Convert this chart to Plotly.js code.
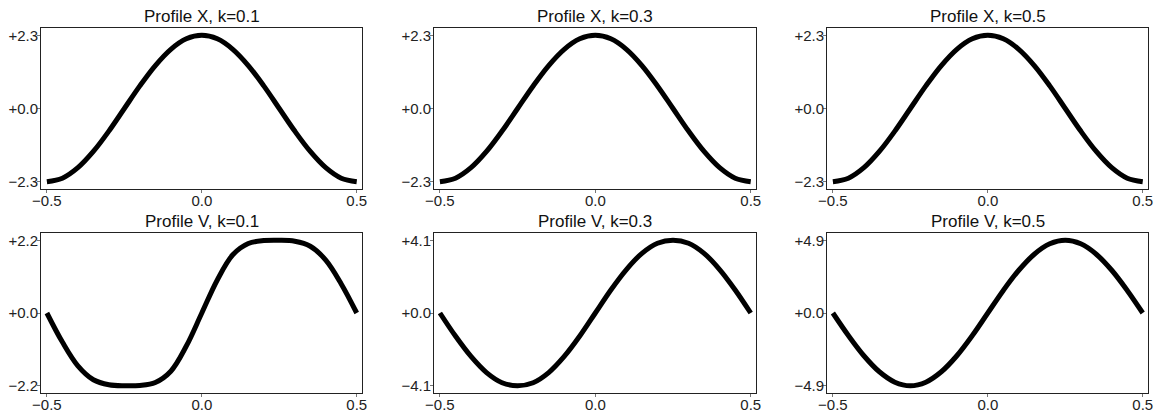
<!DOCTYPE html>
<html>
<head>
<meta charset="utf-8">
<script src="https://cdn.plot.ly/plotly-3.0.1.min.js"></script>
<style>
  html, body { margin: 0; padding: 0; background: #fff; }
  #chart { width: 1156px; height: 413px; }
</style>
</head>
<body>
<div id="chart"></div>
<script>
// sample positions along the profile
const xs = [-0.5, -0.45, -0.4, -0.35, -0.3, -0.25, -0.2, -0.15, -0.1, -0.05, 0,
            0.05, 0.1, 0.15, 0.2, 0.25, 0.3, 0.35, 0.4, 0.45, 0.5];

// top row: Profile X (same shape for every k)
const profileX_k01 = [-2.30, -2.19, -1.86, -1.35, -0.71, 0.00, 0.71, 1.35, 1.86, 2.19, 2.30,
                      2.19, 1.86, 1.35, 0.71, 0.00, -0.71, -1.35, -1.86, -2.19, -2.30];
const profileX_k03 = [-2.30, -2.19, -1.86, -1.35, -0.71, 0.00, 0.71, 1.35, 1.86, 2.19, 2.30,
                      2.19, 1.86, 1.35, 0.71, 0.00, -0.71, -1.35, -1.86, -2.19, -2.30];
const profileX_k05 = [-2.30, -2.19, -1.86, -1.35, -0.71, 0.00, 0.71, 1.35, 1.86, 2.19, 2.30,
                      2.19, 1.86, 1.35, 0.71, 0.00, -0.71, -1.35, -1.86, -2.19, -2.30];

// bottom row: Profile V
const profileV_k01 = [0.00, -0.88, -1.60, -2.02, -2.17, -2.20, -2.19, -2.10, -1.76, -1.00, 0.00,
                      1.00, 1.76, 2.10, 2.19, 2.20, 2.17, 2.02, 1.60, 0.88, 0.00];
const profileV_k03 = [0.00, -1.30, -2.45, -3.36, -3.93, -4.10, -3.93, -3.36, -2.45, -1.30, 0.00,
                      1.30, 2.45, 3.36, 3.93, 4.10, 3.93, 3.36, 2.45, 1.30, 0.00];
const profileV_k05 = [0.00, -1.52, -2.88, -3.96, -4.66, -4.90, -4.66, -3.96, -2.88, -1.52, 0.00,
                      1.52, 2.88, 3.96, 4.66, 4.90, 4.66, 3.96, 2.88, 1.52, 0.00];

const titles = ['Profile X, k=0.1', 'Profile X, k=0.3', 'Profile X, k=0.5',
                'Profile V, k=0.1', 'Profile V, k=0.3', 'Profile V, k=0.5'];
const series = [profileX_k01, profileX_k03, profileX_k05, profileV_k01, profileV_k03, profileV_k05];
const yTickText = [['\u22122.3', '+0.0', '+2.3'], ['\u22122.3', '+0.0', '+2.3'], ['\u22122.3', '+0.0', '+2.3'],
                   ['\u22122.2', '+0.0', '+2.2'], ['\u22124.1', '+0.0', '+4.1'], ['\u22124.9', '+0.0', '+4.9']];
const xTickVals = [-0.5, 0, 0.5];
const xTickText = ['\u22120.5', '0.0', '0.5'];

const W = 1156, H = 413;
const colPx = [[41, 362], [434, 756], [827, 1148]];
const rowPx = [[28, 189], [233, 393]];

const font = { family: 'Liberation Sans, Arial, sans-serif', size: 15, color: '#222' };
const traces = [];
const layout = {
  width: W, height: H,
  margin: { l: 0, r: 0, t: 0, b: 0 },
  paper_bgcolor: '#fff', plot_bgcolor: '#fff',
  showlegend: false,
  font: font,
  annotations: []
};

series.forEach(function (ys, i) {
  const r = Math.floor(i / 3), c = i % 3;
  const n = i + 1;
  const sfx = n === 1 ? '' : String(n);
  traces.push({
    x: xs, y: ys, xaxis: 'x' + sfx, yaxis: 'y' + sfx,
    mode: 'lines', type: 'scatter',
    line: { color: '#000', width: 5, shape: 'spline', smoothing: 1 },
    hoverinfo: 'skip'
  });
  const ymin = Math.min.apply(null, ys), ymax = Math.max.apply(null, ys);
  const pad = 0.05 * (ymax - ymin);
  const common = {
    showgrid: false, zeroline: false, showline: true, mirror: true,
    linecolor: '#222', linewidth: 1, ticks: 'outside', ticklen: 3, tickcolor: '#777',
    tickfont: font, fixedrange: true
  };
  layout['xaxis' + sfx] = Object.assign({}, common, {
    domain: [colPx[c][0] / W, colPx[c][1] / W],
    anchor: 'y' + sfx,
    range: [-0.519, 0.517],
    tickvals: xTickVals, ticktext: xTickText,
    ticklabelstandoff: -5
  });
  layout['yaxis' + sfx] = Object.assign({}, common, {
    domain: [1 - rowPx[r][1] / H, 1 - rowPx[r][0] / H],
    anchor: 'x' + sfx,
    range: [ymin - pad, ymax + pad],
    tickvals: [ymin, 0, ymax], ticktext: yTickText[i],
    ticklabelstandoff: -4
  });
  layout.annotations.push({
    text: titles[i], showarrow: false,
    xref: 'paper', yref: 'paper',
    x: (colPx[c][0] + colPx[c][1]) / 2 / W, y: 1 - rowPx[r][0] / H,
    xanchor: 'center', yanchor: 'bottom', yshift: 0,
    font: { family: 'Liberation Sans, Arial, sans-serif', size: 17, color: '#111' }
  });
});

Plotly.newPlot('chart', traces, layout, { staticPlot: true, displayModeBar: false });
</script>
</body>
</html>
